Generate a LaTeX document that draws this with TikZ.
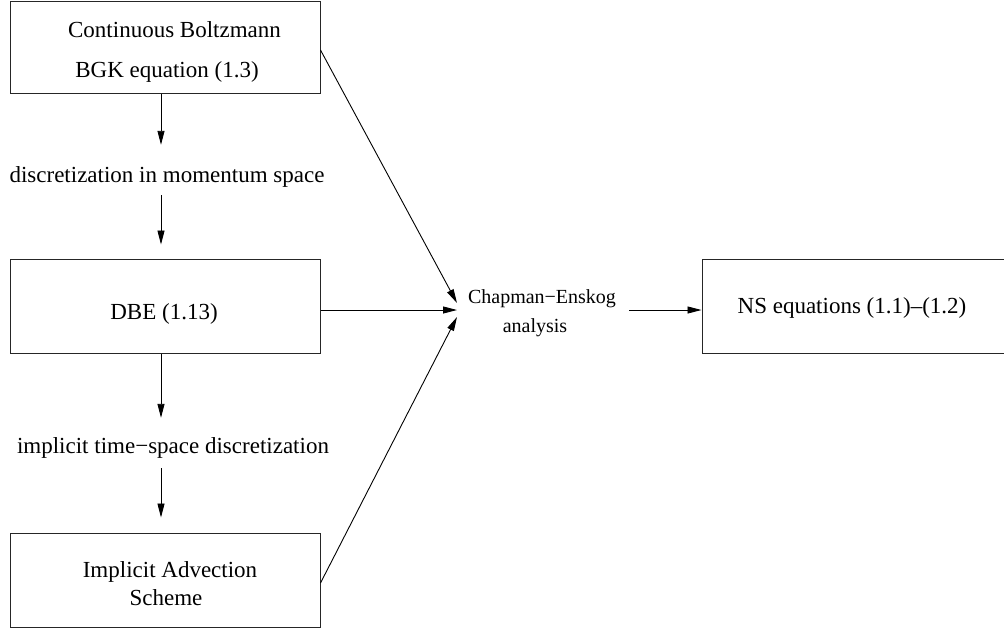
\documentclass[tikz,border=0pt]{standalone}
\usepackage{fontspec}
\setmainfont{Liberation Serif}
\usetikzlibrary{arrows.meta}
\begin{document}
\begin{tikzpicture}[x=1pt,y=-1pt,
  box/.style={draw=black!85, line width=1pt, rectangle, inner sep=0pt},
  txt/.style={font=\fontsize{23}{28}\selectfont, inner sep=0pt, anchor=base},
  small/.style={font=\fontsize{20}{24}\selectfont, inner sep=0pt, anchor=base},
  lbl/.style={txt, text height=16pt, text depth=5pt},
  arr/.style={draw=black, line width=0.9pt, -{Triangle[length=14pt,width=7pt]}}]
\useasboundingbox (0,0) rectangle (1004,630);
% boxes
\node[box, minimum width=310pt, minimum height=92pt] (b1) at (165,47) {};
\node[box, minimum width=310pt, minimum height=94pt] (b2) at (165,306) {};
\node[box, minimum width=310pt, minimum height=94pt] (b3) at (165,580) {};
\node[box, minimum width=310pt, minimum height=94pt] (ns) at (857,306) {};
% texts
\node[txt] (t1a) at (174.5,37) {Continuous Boltzmann};
\node[txt] (t1b) at (167,77) {BGK equation (1.3)};
\node[txt] (t2) at (164,319) {DBE (1.13)};
\node[txt] (t3a) at (170,577) {Implicit Advection};
\node[txt] (t3b) at (166,605) {Scheme};
\node[txt] (tns) at (852,313) {NS equations (1.1)–(1.2)};
\node[lbl] (lbl1) at (167,182) {discretization in momentum space};
\node[lbl] (lbl2) at (173,453) {implicit time−space discretization};
\node[small] (ce) at (542,303) {Chapman−Enskog};
\node[small] (ce2) at (535,332) {analysis};
\coordinate (ax) at (161,0);
\coordinate (ceW) at (457,310);
\coordinate (ceE) at (629,310);
% vertical arrows
\draw[arr, shorten >=21pt] (b1.south -| ax) -- (lbl1.north -| ax);
\draw[arr, shorten <=8pt, shorten >=14pt] (lbl1.south -| ax) -- (b2.north -| ax);
\draw[arr, shorten >=19pt] (b2.south -| ax) -- (lbl2.north -| ax);
\draw[arr, shorten <=10pt, shorten >=15pt] (lbl2.south -| ax) -- (b3.north -| ax);
% converging arrows
\draw[arr] ([yshift=-3pt]b1.east) -- ([yshift=7pt]ceW);
\draw[arr] (b2.east |- ceW) -- (ceW);
\draw[arr] ([yshift=-3pt]b3.east) -- ([yshift=-7pt]ceW);
\draw[arr] (ceE) -- (ceE -| ns.west);
\end{tikzpicture}
\end{document}
